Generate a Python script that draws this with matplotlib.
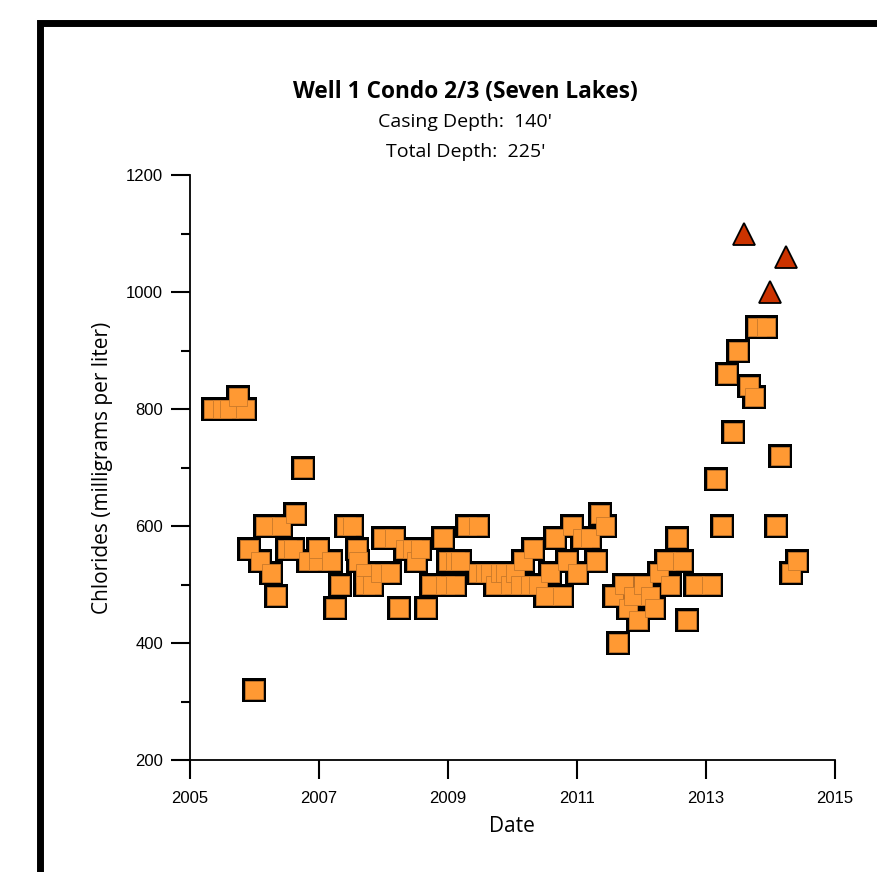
import numpy as np
import matplotlib.pyplot as plt
from matplotlib.patches import Rectangle
from matplotlib.ticker import MultipleLocator

# datos del pozo (fecha en anios decimales, cloruros mg/L)
fecha = [2005.36, 2005.50, 2005.60, 2005.85, 2005.74, 2005.91, 2005.99, 2006.09,
         2006.16, 2006.26, 2006.33, 2006.41, 2006.50, 2006.60, 2006.63, 2006.75,
         2006.83, 2006.98, 2006.99, 2007.19, 2007.25, 2007.33, 2007.42, 2007.51,
         2007.59, 2007.60, 2007.71, 2007.71, 2007.82, 2007.95, 2007.99, 2008.10,
         2008.16, 2008.24, 2008.33, 2008.44, 2008.50, 2008.57, 2008.66, 2008.74,
         2008.92, 2008.95, 2009.00, 2009.11, 2009.11, 2009.19, 2009.29, 2009.47,
         2009.47, 2009.57, 2009.65, 2009.73, 2009.81, 2009.88, 2009.96, 2010.04,
         2010.12, 2010.16, 2010.27, 2010.32, 2010.40, 2010.50, 2010.58, 2010.66,
         2010.77, 2010.84, 2010.92, 2011.00, 2011.08, 2011.20, 2011.29, 2011.36,
         2011.43, 2011.57, 2011.64, 2011.73, 2011.79, 2011.87, 2011.95, 2012.02,
         2012.13, 2012.19, 2012.27, 2012.38, 2012.44, 2012.55, 2012.63, 2012.71,
         2012.83, 2013.08, 2013.16, 2013.25, 2013.33, 2013.42, 2013.50, 2013.67,
         2013.74, 2013.79, 2013.93, 2014.09, 2014.15, 2014.32, 2014.41]
cloruros = [800, 800, 800, 800, 820, 560, 320, 540,
            600, 520, 480, 600, 560, 560, 620, 700,
            540, 540, 560, 540, 460, 500, 600, 600,
            560, 540, 520, 500, 500, 520, 580, 520,
            580, 460, 560, 560, 540, 560, 460, 500,
            580, 500, 540, 540, 500, 540, 600, 600,
            520, 520, 520, 500, 520, 520, 500, 520,
            500, 540, 500, 560, 500, 480, 520, 580,
            480, 540, 600, 520, 580, 580, 540, 620,
            600, 480, 400, 500, 460, 480, 440, 500,
            480, 460, 520, 540, 500, 580, 540, 440,
            500, 500, 680, 600, 860, 760, 900, 840,
            820, 940, 940, 600, 720, 520, 540]

# valores altos (triangulos)
fecha_alta = [2013.59, 2013.99, 2014.24]
cloruros_alta = [1100, 1000, 1060]

titulo = "Well 1 Condo 2/3 (Seven Lakes)"
sub1 = "Casing Depth:  140'"
sub2 = "Total Depth:  225'"

fig = plt.figure(figsize=(8.78, 8.72), dpi=100)
ax = fig.add_axes([190/878, 1-760/872, 645/878, 585/872])

# primero el borde negro, despues el relleno (asi se ven unidos)
ax.plot(fecha, cloruros, ls="none", marker="s", ms=16.6, mfc="black", mec="black", mew=0, clip_on=False)
ax.plot(fecha, cloruros, ls="none", marker="s", ms=12.4, mfc="#FF9933", mec="#C8782A", mew=0.6, clip_on=False)
ax.plot(fecha_alta, cloruros_alta, ls="none", marker="^", ms=15.5, mfc="#CC3300", mec="black", mew=1.3, clip_on=False)

ax.set_xlim(2005, 2015)
ax.set_ylim(200, 1200)
ax.set_xticks(np.arange(2005, 2016, 2))
ax.yaxis.set_major_locator(MultipleLocator(200))
ax.yaxis.set_minor_locator(MultipleLocator(100))
for s in ["top", "right"]:
    ax.spines[s].set_visible(False)
for s in ["left", "bottom"]:
    ax.spines[s].set_linewidth(1.3)
ax.tick_params(axis="both", which="major", length=13.5, width=1.5, labelsize=12)
ax.tick_params(axis="y", which="minor", length=6.5, width=1.5)
ax.tick_params(axis="y", pad=6)
ax.tick_params(axis="x", pad=9)
for lab in ax.get_xticklabels() + ax.get_yticklabels():
    lab.set_fontfamily("Liberation Sans")

ax.set_ylabel("Chlorides (milligrams per liter)", fontsize=15, fontfamily="Open Sans")
ax.yaxis.set_label_coords(-0.12, 0.5)
ax.set_xlabel("Date", fontsize=15, fontfamily="Open Sans")
ax.xaxis.set_label_coords(0.499, -0.095)

fig.text(0.53, 1-92/872, titulo, ha="center", va="center", fontsize=16.3, fontweight="bold", fontfamily="Open Sans")
fig.text(0.53, 1-122/872, sub1, ha="center", va="center", fontsize=14, fontfamily="Open Sans")
fig.text(0.53, 1-152/872, sub2, ha="center", va="center", fontsize=14, fontfamily="Open Sans")

# marco negro grueso (solo se ve arriba y a la izquierda)
fig.add_artist(Rectangle((40/878, -0.2), 1.3, 1.2 - 22.5/872, transform=fig.transFigure,
                         fill=False, lw=5, ec="black", clip_on=False))

fig.savefig("out.png", dpi=100)
